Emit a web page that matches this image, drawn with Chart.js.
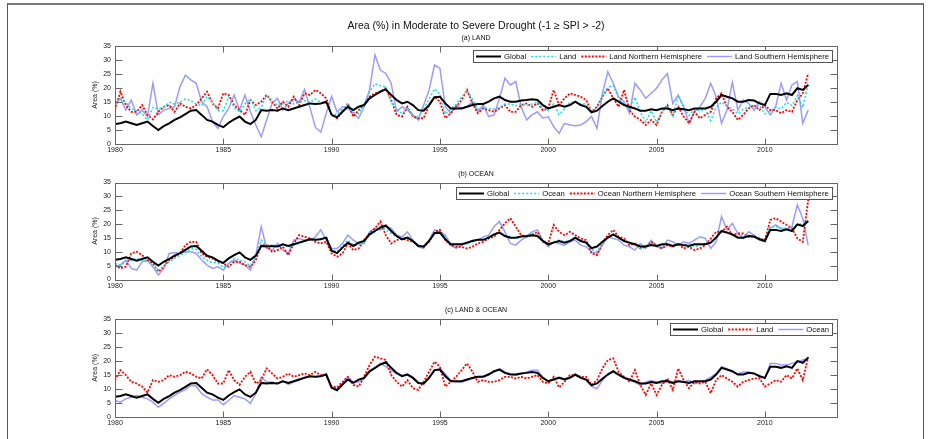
<!DOCTYPE html>
<html><head><meta charset="utf-8">
<script src="https://cdn.jsdelivr.net/npm/chart.js@4.4.1/dist/chart.umd.min.js"></script>
<style>
html,body{margin:0;padding:0;background:#fff;}
#wrap{position:relative;width:931px;height:439px;overflow:hidden;background:#fff;}
#frame{position:absolute;left:7px;top:3px;width:917px;height:460px;border:1px solid #555;border-top:2px solid #777;box-sizing:border-box;}
.pane{position:absolute;left:0;width:931px;}
canvas{display:block;}
</style></head><body>
<div id="wrap">
<div id="frame"></div>
<div class="pane" style="top:0px;height:160px"><canvas id="cA" width="931" height="160"></canvas></div>
<div class="pane" style="top:160px;height:137px"><canvas id="cB" width="931" height="137"></canvas></div>
<div class="pane" style="top:297px;height:142px"><canvas id="cC" width="931" height="142"></canvas></div>
</div>
<script>
// ---- tick labels ----
const yearTicks = [1980, 1985, 1990, 1995, 2000, 2005, 2010];
const areaTicks = [0, 5, 10, 15, 20, 25, 30, 35];

// ---- series (quarterly readings, 1980.00 ... 2012.00) ----
const globalArea = [
7.1,7.4,8.0,7.4, 6.8,7.4,8.0,6.4, 5.0,6.4,7.4,8.6, 9.5,10.7,11.9,12.1,
10.4,8.6,8.0,6.8, 6.0,7.6,8.8,9.8, 8.0,7.1,8.6,12.1, 11.9,12.1,11.9,12.7,
12.1,12.7,13.3,13.9, 14.5,14.3,14.5,15.1, 10.4,9.5,11.5,13.3, 12.1,13.3,13.9,16.3,
17.5,18.7,19.5,17.5, 15.7,14.5,15.1,13.9, 12.1,11.9,13.9,16.7, 16.9,14.5,12.7,12.7,
12.7,13.3,13.9,14.3, 14.3,15.1,16.3,16.9, 15.7,15.1,15.1,15.5, 15.7,16.0,15.7,13.9,
12.7,13.3,13.9,13.3, 13.9,15.1,13.9,13.3, 11.3,11.9,13.6,15.1, 16.3,15.1,13.9,13.3,
12.7,11.9,11.9,12.4, 12.1,12.7,12.7,12.1, 12.7,12.4,12.1,12.7, 12.7,12.7,13.3,15.1,
17.5,16.9,16.3,15.1, 15.1,15.7,15.5,14.5, 13.9,17.9,17.9,17.5, 18.1,17.5,19.9,19.3,
21.1];
const landArea = [
13.1,16.7,14.9,12.5, 11.9,10.8,8.6,13.1, 12.5,13.1,14.9,14.3, 14.9,16.1,15.5,14.3,
13.7,17.0,14.9,11.9, 11.9,16.7,13.1,11.4, 14.3,16.1,11.9,13.1, 17.3,15.5,13.7,14.3,
15.5,14.3,14.9,15.5, 14.9,16.1,14.9,14.9, 10.8,10.5,12.5,14.3, 11.4,10.8,14.3,18.5,
21.5,20.9,20.3,14.9, 12.5,10.8,13.1,10.2, 9.6,12.5,16.1,19.7, 17.9,10.8,12.5,14.3,
16.7,19.1,16.1,12.5, 13.1,12.5,12.5,13.1, 14.3,14.3,13.7,14.3, 13.7,14.3,14.9,12.5,
11.9,14.3,10.5,12.5, 14.9,14.9,14.3,14.3, 11.4,13.1,17.3,20.3, 20.9,16.1,14.3,12.5,
16.7,11.4,7.8,11.9, 7.8,11.4,13.7,9.6, 17.3,13.1,10.2,12.5, 11.9,12.5,8.4,13.1,
14.9,13.7,12.5,10.8, 12.5,13.1,13.7,13.7, 10.8,11.9,13.1,12.5, 14.9,13.7,17.3,13.1,
21.5];
const landNH = [
12.1,18.7,13.9,11.5, 11.5,13.9,10.4,8.8, 11.5,13.3,13.9,11.5, 14.5,13.3,12.7,13.9,
16.3,18.7,14.5,12.7, 18.1,17.5,13.9,12.1, 10.4,15.7,13.9,15.1, 17.5,15.1,12.7,15.1,
13.3,16.9,13.9,18.1, 17.5,19.3,18.1,16.3, 10.4,9.2,11.5,14.5, 9.8,12.1,13.9,16.9,
18.1,18.7,19.9,15.7, 10.4,9.8,13.3,9.8, 9.2,9.2,13.9,16.9, 15.1,9.2,11.0,13.3,
15.7,19.3,14.5,11.0, 12.7,12.1,11.5,12.7, 13.9,11.5,11.5,13.9, 14.5,13.3,14.5,12.1,
12.7,19.3,13.9,16.3, 18.1,17.5,16.9,15.7, 11.5,13.3,16.9,19.9, 16.3,13.3,19.3,12.1,
9.8,8.6,6.8,8.6, 6.8,11.5,13.9,10.4, 13.3,9.8,7.4,11.5, 9.2,10.4,11.5,16.3,
18.1,13.3,11.5,8.6, 10.4,12.7,13.9,12.1, 13.9,12.1,12.1,11.0, 12.1,11.5,15.7,18.1,
25.2];
const landSH = [
14.5,16.3,12.1,15.7, 10.4,12.1,9.8,21.7, 10.4,12.1,12.7,13.3, 20.5,24.6,22.9,21.7,
15.1,13.3,8.0,5.6, 9.8,12.7,17.5,12.1, 17.5,11.5,6.8,2.6, 8.6,14.5,16.3,12.1,
14.5,16.0,15.0,19.5, 13.0,6.0,4.2,11.0, 17.0,11.5,13.3,12.7, 11.0,9.2,13.3,19.3,
31.8,26.4,25.2,21.7, 11.5,13.3,12.1,10.4, 8.6,13.9,19.3,28.2, 27.0,13.3,11.0,13.9,
12.7,13.3,15.1,11.5, 13.9,9.8,10.4,16.3, 23.5,21.1,22.3,13.3, 8.6,10.4,11.5,9.2,
9.8,6.2,3.8,7.4, 6.8,6.5,6.8,8.0, 9.8,5.6,18.1,25.8, 21.7,16.9,15.1,11.0,
21.7,19.3,16.3,18.1, 19.9,22.9,25.2,14.5, 17.5,13.3,7.4,11.5, 13.3,16.3,21.7,16.9,
7.4,12.1,22.0,12.1, 15.7,14.5,12.1,15.1, 13.3,10.4,13.3,21.7, 15.7,21.1,22.3,7.4,
12.1];
const oceanArea = [
5.8,5.2,6.4,7.0, 7.6,7.0,6.4,5.2, 3.4,4.8,6.4,7.6, 8.8,9.7,11.2,10.9,
8.2,7.0,6.0,6.0, 4.3,5.8,7.6,7.0, 6.4,4.8,8.2,14.2, 12.4,12.4,11.8,12.8,
11.6,12.4,13.0,14.2, 14.5,14.2,14.8,15.4, 10.6,10.0,12.1,14.2, 12.4,12.4,13.6,16.0,
17.2,19.1,17.9,16.6, 15.4,14.8,15.4,14.2, 12.4,11.6,14.2,16.6, 17.2,15.4,13.0,12.4,
12.4,13.0,13.6,14.2, 14.5,15.4,16.0,17.2, 16.0,15.4,14.8,15.4, 16.0,16.6,16.6,14.2,
12.4,13.6,14.2,13.6, 14.2,15.2,14.2,13.0, 10.9,10.0,13.0,15.4, 16.0,14.8,14.2,13.0,
12.4,11.2,12.4,13.0, 12.4,11.8,13.0,12.4, 13.0,12.4,13.0,11.8, 12.4,13.0,14.2,15.4,
17.9,17.2,16.0,15.4, 16.0,16.0,15.4,14.8, 13.6,19.1,19.1,18.5, 18.5,19.1,19.7,20.3,
20.9];
const oceanNH = [
5.2,4.0,4.6,9.4, 10.0,8.8,7.0,5.8, 2.8,4.6,7.0,8.2, 9.4,12.4,13.6,13.6,
9.4,8.2,7.6,6.4, 5.8,4.6,6.4,6.4, 5.2,4.6,7.0,12.4, 12.4,10.0,10.6,11.8,
8.8,13.0,16.0,15.4, 14.8,13.6,13.0,13.6, 9.4,8.2,9.4,13.0, 10.6,11.2,14.2,16.6,
18.5,20.9,16.0,13.0, 14.2,14.8,14.2,13.6, 12.4,11.8,13.6,17.2, 17.9,14.2,12.4,11.8,
11.8,11.2,11.8,13.0, 13.6,14.8,15.4,17.9, 20.3,22.1,19.1,16.0, 15.4,16.0,17.2,13.6,
13.0,19.7,17.2,16.0, 17.2,16.0,14.8,14.2, 9.4,8.8,13.0,16.0, 17.9,15.4,14.8,12.4,
13.0,11.2,11.8,13.6, 12.4,11.2,12.4,11.8, 13.0,11.2,11.8,10.6, 11.2,12.4,14.8,17.2,
17.2,19.1,16.0,16.6, 16.6,15.4,15.4,14.8, 14.2,21.5,22.1,20.9, 19.7,18.5,14.8,13.6,
28.7];
const oceanSH = [
4.6,5.2,7.0,4.0, 3.4,6.4,7.0,4.6, 1.6,4.0,9.4,9.7, 9.4,10.0,10.0,9.4,
7.0,5.2,4.0,4.6, 3.4,5.8,7.0,5.8, 5.2,3.4,8.8,19.1, 11.2,10.6,13.0,10.6,
9.4,14.2,14.8,14.2, 14.2,15.4,17.9,14.2, 11.2,11.2,13.0,16.0, 14.2,13.0,13.0,17.2,
18.5,17.9,19.1,18.5, 16.0,15.4,17.2,14.2, 11.8,11.2,14.2,17.9, 17.2,16.0,12.4,11.2,
12.4,13.0,14.2,14.2, 15.4,16.0,19.1,20.9, 17.2,13.0,12.4,14.2, 15.4,17.2,17.9,14.2,
11.8,13.6,13.0,12.4, 13.6,14.2,12.4,11.8, 10.0,9.4,12.4,15.4, 14.8,14.2,12.4,11.8,
10.6,13.0,11.2,14.2, 11.8,11.2,14.2,13.6, 12.4,13.6,13.0,14.2, 15.4,14.8,11.2,13.6,
22.7,17.9,20.3,16.6, 14.8,17.2,16.0,14.2, 13.6,18.5,19.7,18.5, 17.9,19.1,26.9,22.1,
12.4];

// time coordinate of each reading (quarterly)
const timeAxis = globalArea.map((_, i) => 1980 + i / 4);
const pts = arr => arr.map((v, i) => ({ x: timeAxis[i], y: v }));

const FONT = '"Liberation Sans", Arial, Helvetica, sans-serif';
const C_BLACK = '#000000', C_CYAN = '#12DDEE', C_RED = '#FF0000', C_LAV = '#9C9CF8';

const axesBox = {
  id: 'axesBox',
  afterDatasetsDraw(chart) {
    const { ctx, chartArea: ca, scales: { x, y } } = chart;
    ctx.save();
    ctx.strokeStyle = '#666'; ctx.lineWidth = 1;
    const L = Math.round(ca.left) + 0.5, T = Math.round(ca.top) + 0.5;
    const R = Math.round(ca.right) + 0.5, B = Math.round(ca.bottom) + 0.5;
    ctx.strokeRect(L, T, R - L, B - T);
    ctx.beginPath();
    yearTicks.forEach(v => {
      const px = Math.round(x.getPixelForValue(v)) + 0.5;
      ctx.moveTo(px, B); ctx.lineTo(px, B - 6);
      ctx.moveTo(px, T); ctx.lineTo(px, T + 6);
    });
    areaTicks.forEach(v => {
      const py = Math.round(y.getPixelForValue(v)) + 0.5;
      ctx.moveTo(L, py); ctx.lineTo(L + 7, py);
      ctx.moveTo(R, py); ctx.lineTo(R - 7, py);
    });
    ctx.stroke();
    ctx.restore();
  }
};

const boxLegend = {
  id: 'boxLegend',
  afterDraw(chart) {
    const ctx = chart.ctx, ca = chart.chartArea;
    ctx.save();
    ctx.font = '7.7px ' + FONT;
    const lineLen = 25, gapT = 3, gapI = 5, pad = 3, h = 12;
    const items = chart.data.datasets.map(d => ({ ds: d, w: ctx.measureText(d.label).width }));
    let total = pad * 2;
    items.forEach((it, i) => { total += lineLen + gapT + it.w + (i < items.length - 1 ? gapI : 0); });
    const right = Math.round(ca.right) - 5, top = Math.round(ca.top) + 4;
    const left = right - Math.round(total);
    ctx.fillStyle = '#fff';
    ctx.fillRect(left, top, right - left, h);
    ctx.strokeStyle = '#555'; ctx.lineWidth = 1;
    ctx.strokeRect(left + 0.5, top + 0.5, right - left, h);
    let xx = left + pad; const cy = top + h / 2 + 0.5;
    items.forEach(it => {
      ctx.save();
      ctx.strokeStyle = it.ds.borderColor; ctx.lineWidth = it.ds.borderWidth;
      ctx.setLineDash(it.ds.borderDash || []);
      ctx.beginPath(); ctx.moveTo(xx, cy); ctx.lineTo(xx + lineLen, cy); ctx.stroke();
      ctx.restore();
      xx += lineLen + gapT;
      ctx.fillStyle = '#111'; ctx.textBaseline = 'middle'; ctx.textAlign = 'left';
      ctx.fillText(it.ds.label, xx, cy);
      xx += it.w + gapI;
    });
    ctx.restore();
  }
};

function makeScales() {
  return {
    x: {
      type: 'linear', min: 1980, max: 2013.33,
      afterBuildTicks: s => { s.ticks = yearTicks.map(v => ({ value: v })); },
      afterFit: s => { s.height = 16; },
      grid: { display: false, drawTicks: false }, border: { display: false },
      ticks: { font: { size: 7, family: FONT }, color: '#222', padding: 2, maxRotation: 0, autoSkip: false, callback: v => String(v) }
    },
    y: {
      type: 'linear', min: 0, max: 35,
      afterBuildTicks: s => { s.ticks = areaTicks.map(v => ({ value: v })); },
      afterFit: s => { s.width = 24; },
      grid: { display: false, drawTicks: false }, border: { display: false },
      ticks: { font: { size: 7, family: FONT }, color: '#222', padding: 4, callback: v => String(v) },
      title: { display: true, text: 'Area (%)', font: { size: 7, family: FONT }, color: '#222', padding: { top: 0, bottom: 0 } }
    }
  };
}

function ds(label, arr, color, width, dash) {
  return { label, data: pts(arr), borderColor: color, backgroundColor: color, borderWidth: width,
           borderDash: dash || [], pointRadius: 0, tension: 0, fill: false };
}

function makeChart(id, datasets, titleOpt, subtitleOpt, padBottom) {
  return new Chart(document.getElementById(id), {
    type: 'line',
    data: { datasets },
    options: {
      responsive: false, animation: false, events: [], devicePixelRatio: 1,
      layout: { padding: { left: 91, right: 94, top: 0, bottom: padBottom } },
      scales: makeScales(),
      plugins: {
        legend: { display: false }, tooltip: { enabled: false },
        title: titleOpt, subtitle: subtitleOpt
      }
    },
    plugins: [axesBox, boxLegend]
  });
}

const subFont = { size: 7, family: FONT, weight: 'normal' };

makeChart('cA', [
  ds('Global', globalArea, C_BLACK, 2),
  ds('Land', landArea, C_CYAN, 1.5, [2, 2]),
  ds('Land Northern Hemisphere', landNH, C_RED, 1.8, [2, 1.5]),
  ds('Land Southern Hemisphere', landSH, C_LAV, 1.5)
], { display: true, text: 'Area (%) in Moderate to Severe Drought (-1 \u2265 SPI > -2)', fullSize: false,
     font: { size: 10.5, family: FONT, weight: 'normal' }, color: '#111', padding: { top: 20.2, bottom: 0 } },
   { display: true, text: '(a) LAND', fullSize: false, font: subFont, color: '#111', padding: { top: 0.8, bottom: 4 } }, 0);

makeChart('cB', [
  ds('Global', globalArea, C_BLACK, 2),
  ds('Ocean', oceanArea, C_CYAN, 1.5, [2, 2]),
  ds('Ocean Northern Hemisphere', oceanNH, C_RED, 1.8, [2, 1.5]),
  ds('Ocean Southern Hemisphere', oceanSH, C_LAV, 1.5)
], { display: true, text: '(b) OCEAN', fullSize: false, font: subFont, color: '#111', padding: { top: 9.8, bottom: 4.3 } },
   { display: false }, 1.5);

makeChart('cC', [
  ds('Global', globalArea, C_BLACK, 2),
  ds('Land', landArea, C_RED, 1.8, [2, 1.5]),
  ds('Ocean', oceanArea, C_LAV, 1.5)
], { display: true, text: '(c) LAND & OCEAN', fullSize: false, font: subFont, color: '#111', padding: { top: 8.8, bottom: 4.8 } },
   { display: false }, 6.3);
</script>
</body></html>
